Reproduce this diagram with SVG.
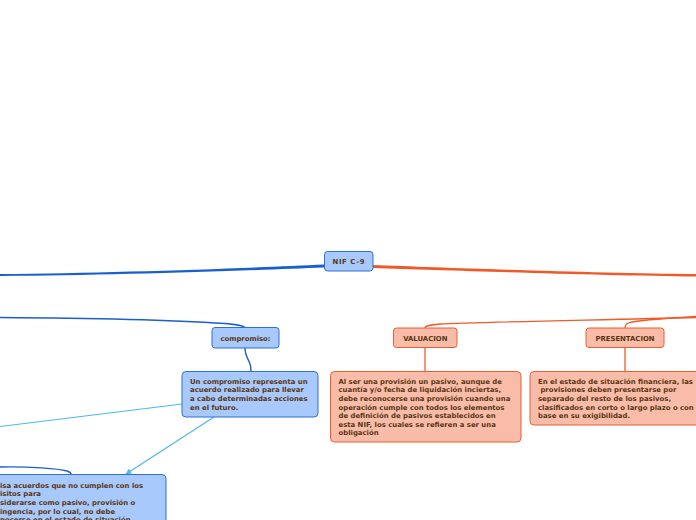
<svg xmlns="http://www.w3.org/2000/svg" width="696" height="520" viewBox="0 0 696 520">
<style>
.t{font-family:"DejaVu Sans","Verdana",sans-serif;font-weight:bold;font-size:6.9px;fill:#5a3512}
.bn{fill:#a8c9fb;stroke:#2f6fd8;stroke-width:1}
.on{fill:#f8bca8;stroke:#ec5d30;stroke-width:1}
.bl{fill:none;stroke:#1a5fce;stroke-width:1.4}
.ol{fill:none;stroke:#f05a28;stroke-width:1.3}
.ll{fill:none;stroke:#4cb8ef;stroke-width:1.2}
</style>
<defs>
<marker id="ah" viewBox="0 0 10 10" refX="9" refY="5" markerWidth="6" markerHeight="6" orient="auto" markerUnits="userSpaceOnUse">
<path d="M0,0 L10,5 L0,10 Z" fill="#4cb8ef"/>
</marker>
</defs>
<rect width="696" height="520" fill="#ffffff"/>
<g id="connectors">
<path d="M324,264.5 C250,268 110,273 0,274 L0,276 C110,275.5 250,270.5 324,267.5 Z" fill="#1a5fce"/>
<path class="bl" d="M0,317.5 C80,318 170,320 225,323.5 C240,325 245,326 245,328"/>
<path class="bl" d="M245,348 C245,356 249,360 250,364 C251,367 251,369 251,371"/>
<path d="M373,265 C450,268 600,273 696,274 L696,276.5 C600,275.5 450,270.5 373,268 Z" fill="#f05a28"/>
<path class="ol" d="M696,316.5 C670,318 645,320 632,322 C626,323 625,325 625,328"/>
<path class="ol" d="M696,317.5 C600,320 480,322 440,324 C428,325 425,326 425,328"/>
<path class="ol" d="M425,347 L425,371"/>
<path class="ol" d="M625,347 L625,371"/>
<path class="ll" d="M182,404 L0,426.5"/>
<path class="ll" d="M214,417 L126,474" marker-end="url(#ah)"/>
<path class="bl" d="M0,467 C30,466.5 58,468.5 67,471 C70,472 71,473 71,474"/>
</g>
<g id="nif">
<rect class="bn" x="324.5" y="251.5" width="48.5" height="19.5" rx="3"/>
<text class="t" x="348.8" y="264" text-anchor="middle" letter-spacing="0.6">NIF C-9</text>
</g>
<g id="compromiso">
<rect class="bn" x="212" y="327.5" width="67" height="20.5" rx="3"/>
<text class="t" x="245.5" y="340.5" text-anchor="middle">compromiso:</text>
</g>
<g id="compromiso-def">
<rect class="bn" x="182" y="371.5" width="136" height="45.5" rx="4"/>
<text class="t" x="190" y="383.8">Un compromiso representa un</text>
<text class="t" x="190" y="392.4">acuerdo realizado para llevar</text>
<text class="t" x="190" y="401">a cabo determinadas acciones</text>
<text class="t" x="190" y="409.6">en el futuro.</text>
</g>
<g id="acuerdos">
<rect class="bn" x="-10" y="474.5" width="176" height="60" rx="4"/>
<text class="t" x="0" y="487.8">isa acuerdos que no cumplen con los</text>
<text class="t" x="0" y="496.4">isitos para</text>
<text class="t" x="0" y="505">siderarse como pasivo, provisión o</text>
<text class="t" x="0" y="513.6">ingencia, por lo cual, no debe</text>
<text class="t" x="0" y="522.2">nocerse en el estado de situación</text>
</g>
<g id="valuacion">
<rect class="on" x="393.5" y="328" width="63.5" height="19.5" rx="3"/>
<text class="t" x="425.3" y="340.7" text-anchor="middle">VALUACION</text>
</g>
<g id="valuacion-def">
<rect class="on" x="330.5" y="371.5" width="190.5" height="70.5" rx="4"/>
<text class="t" x="338.5" y="383.8">Al ser una provisión un pasivo, aunque de</text>
<text class="t" x="338.5" y="392.4">cuantía y/o fecha de liquidación inciertas,</text>
<text class="t" x="338.5" y="401">debe reconocerse una provisión cuando una</text>
<text class="t" x="338.5" y="409.6">operación cumple con todos los elementos</text>
<text class="t" x="338.5" y="418.2">de definición de pasivos establecidos en</text>
<text class="t" x="338.5" y="426.8">esta NIF, los cuales se refieren a ser una</text>
<text class="t" x="338.5" y="435.4">obligación</text>
</g>
<g id="presentacion">
<rect class="on" x="586" y="328" width="78" height="19.5" rx="3"/>
<text class="t" x="625" y="340.7" text-anchor="middle">PRESENTACION</text>
</g>
<g id="presentacion-def">
<rect class="on" x="530" y="371.5" width="172" height="53.5" rx="4"/>
<text class="t" x="538" y="383.8">En el estado de situación financiera, las</text>
<text class="t" x="538" y="392.4" xml:space="preserve"> provisiones deben presentarse por</text>
<text class="t" x="538" y="401">separado del resto de los pasivos,</text>
<text class="t" x="538" y="409.6">clasificados en corto o largo plazo o con</text>
<text class="t" x="538" y="418.2">base en su exigibilidad.</text>
</g>
</svg>
